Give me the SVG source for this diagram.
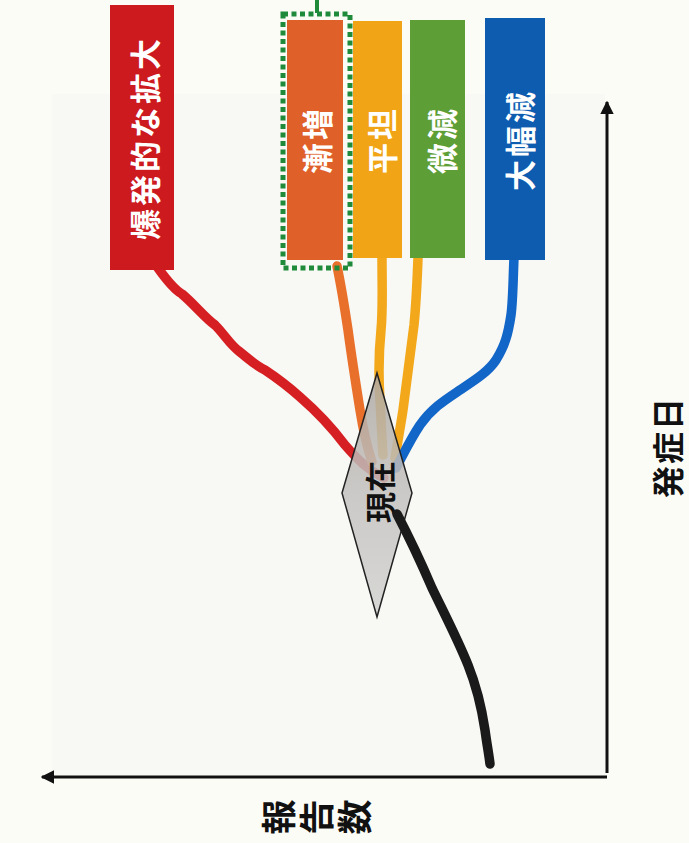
<svg xmlns="http://www.w3.org/2000/svg" width="689" height="843" viewBox="0 0 689 843">
  <defs>
    <style>
      .lbl { font-family: "Noto Sans CJK JP", "Noto Sans", sans-serif; font-weight: 700; fill: #ffffff; font-size: 31px; text-anchor: middle; dominant-baseline: central; }
      .blk { font-family: "Noto Sans CJK JP", "Noto Sans", sans-serif; font-weight: 700; fill: #111111; text-anchor: middle; dominant-baseline: central; }
      .ln { fill: none; stroke-width: 9.5; stroke-linecap: round; stroke-linejoin: round; }
      .axis { stroke: #111111; stroke-width: 3; fill: none; }
    </style>
    <linearGradient id="dg" x1="0" y1="0" x2="0" y2="1">
      <stop offset="0" stop-color="#aea8a2"/>
      <stop offset="0.5" stop-color="#c4c2c0"/>
      <stop offset="1" stop-color="#d2d2d0"/>
    </linearGradient>
    <marker id="ah" viewBox="0 0 10 10" refX="9" refY="5" markerWidth="4.5" markerHeight="4.5" markerUnits="strokeWidth" orient="auto">
      <path d="M0,0 L10,5 L0,10 z" fill="#111111"/>
    </marker>
  </defs>
  <rect width="689" height="843" fill="#fcfcf7"/>
  <rect x="52" y="94" width="553" height="681" fill="#f8f8f4"/>

  <g id="connectors">
    <path class="ln" stroke="#d61f22" d="M158,268 C168,282 175,290 182,294 C195,305 205,318 215,325 C225,335 230,345 240,352 C250,360 255,365 265,370 C280,380 290,388 300,397 C315,410 330,425 345,445 C358,460 368,470 384,478"/>
    <path class="ln" stroke="#e8702a" d="M337,266 C342,290 345,310 348,330 C352,360 356,385 360,410 C364,435 368,450 372,462"/>
    <path class="ln" stroke="#f2a81a" d="M382,256 C382,290 383,310 381,330 C379,350 378,370 380,400 C381,420 382,440 383,455"/>
    <path class="ln" stroke="#f2a81a" d="M418,258 C417,285 416,305 414,325 C411,350 407,380 403,410 C400,430 397,445 395,458"/>
    <path class="ln" stroke="#1266c8" d="M514,258 C513,280 513,300 511,315 C508,335 505,345 496,360 C488,372 475,380 460,390 C445,400 432,408 420,425 C410,440 403,455 396,468"/>
    <path class="axis" d="M607,773 L607,102" marker-end="url(#ah)"/>
    <path class="axis" d="M607,777 L42,777" marker-end="url(#ah)"/>
  </g>

  <g id="node-current">
    <polygon points="377,373 412,493 377,617 342,493" fill="url(#dg)" fill-opacity="0.86" stroke="#222222" stroke-width="1.5"/>
    <text class="blk" font-size="31" transform="translate(378,492) rotate(-90)">現在</text>
  </g>

  <g id="connector-past">
    <path class="ln" stroke="#1a1a1a" stroke-width="10" d="M397,514 C408,535 420,560 432,588 C445,615 458,640 468,665 C478,690 482,710 485,730 C487,745 489,755 490,764"/>
  </g>

  <g id="node-explosive">
    <rect x="110" y="5" width="64" height="265" fill="#cc1a1f"/>
    <text class="lbl" letter-spacing="3" transform="translate(143,138) rotate(-90)">爆発的な拡大</text>
  </g>

  <g id="node-gradual-increase">
    <line x1="317" y1="0" x2="317" y2="13" stroke="#1e8a3a" stroke-width="4"/>
    <rect x="287" y="20" width="56" height="240" fill="#e0602a"/>
    <rect x="283" y="14" width="67" height="254" fill="none" stroke="#1e8a3a" stroke-width="5" stroke-dasharray="5 3.5"/>
    <text class="lbl" letter-spacing="3" transform="translate(315,140) rotate(-90)">漸増</text>
  </g>

  <g id="node-flat">
    <rect x="353" y="21" width="49" height="237" fill="#f0a416"/>
    <text class="lbl" letter-spacing="3" transform="translate(380,140) rotate(-90)">平坦</text>
  </g>

  <g id="node-slight-decrease">
    <rect x="410" y="20" width="55" height="238" fill="#5e9e36"/>
    <text class="lbl" letter-spacing="3" transform="translate(440,140) rotate(-90)">微減</text>
  </g>

  <g id="node-large-decrease">
    <rect x="485" y="18" width="60" height="242" fill="#0d5cb0"/>
    <text class="lbl" letter-spacing="3" transform="translate(518,140) rotate(-90)">大幅減</text>
  </g>

  <g id="axis-labels">
    <text class="blk" font-size="32" letter-spacing="2" transform="translate(666,447) rotate(-90)">発症日</text>
    <text class="blk" font-size="35" transform="translate(276,817) rotate(-90)">報</text>
    <text class="blk" font-size="35" transform="translate(314,817) rotate(-90)">告</text>
    <text class="blk" font-size="35" transform="translate(352,817) rotate(-90)">数</text>
  </g>
</svg>
